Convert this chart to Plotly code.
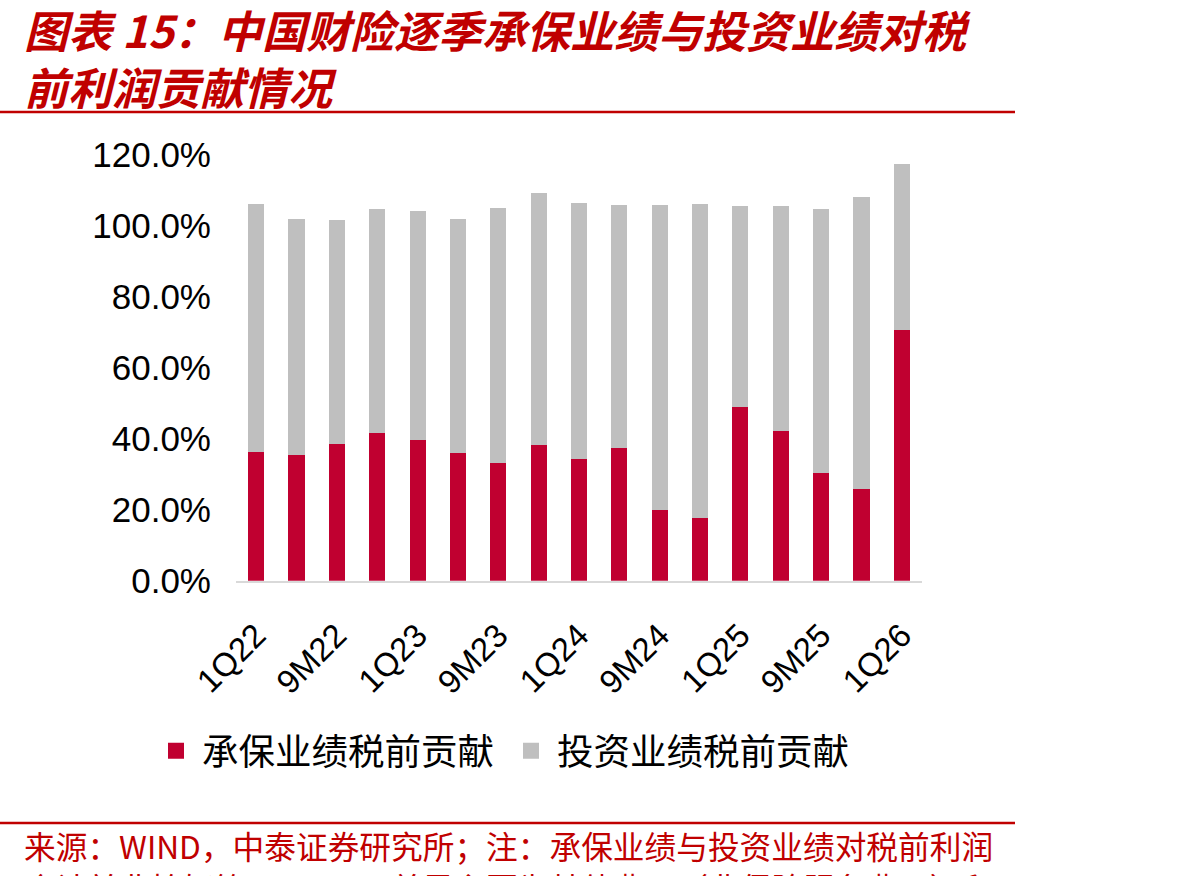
import plotly.graph_objects as go

categories = ["1Q22", "1H22", "9M22", "2022", "1Q23", "1H23", "9M23", "2023",
              "1Q24", "1H24", "9M24", "2024", "1Q25", "1H25", "9M25", "2025", "1Q26"]
underwriting = [36.3, 35.5, 38.6, 41.7, 39.6, 36.1, 33.2, 38.3,
                34.3, 37.4, 19.9, 17.7, 49.0, 42.2, 30.4, 25.9, 70.6]
total = [106.1, 101.9, 101.6, 104.7, 104.1, 101.9, 105.0, 109.2,
         106.4, 105.8, 105.8, 106.1, 105.5, 105.5, 104.7, 108.1, 117.4]
investment = [round(t - u, 1) for t, u in zip(total, underwriting)]
shown_labels = categories[::2]
y_ticks = [0, 20, 40, 60, 80, 100, 120]
series_names = ["承保业绩税前贡献", "投资业绩税前贡献"]

W, H = 1192, 876
RED = "#C00000"
BAR_RED = "#C00030"
BAR_GREY = "#BFBFBF"
CJK = "Noto Sans CJK SC"

fig = go.Figure()
fig.add_trace(go.Bar(x=categories, y=underwriting, name=series_names[0], showlegend=False,
                     marker=dict(color=BAR_RED, line=dict(width=0))))
fig.add_trace(go.Bar(x=categories, y=investment, name=series_names[1], showlegend=False,
                     marker=dict(color=BAR_GREY, line=dict(width=0))))
# legend entries with larger square swatches
for nm, col in zip(series_names, [BAR_RED, BAR_GREY]):
    fig.add_trace(go.Scatter(x=[None], y=[None], mode="markers", name=nm,
                             marker=dict(symbol="square", size=24, color=col, line=dict(width=0))))

fig.update_layout(
    width=W, height=H,
    margin=dict(l=0, r=0, t=0, b=0, pad=0, autoexpand=False),
    paper_bgcolor="white", plot_bgcolor="white",
    barmode="stack", bargap=0.6,
    showlegend=True,
    legend=dict(orientation="h", x=150 / W, y=1 - 751 / H, xanchor="left", yanchor="middle",
                font=dict(family=CJK, size=36.5, color="#000000"),
                traceorder="normal", itemwidth=42, entrywidth=298, entrywidthmode="pixels",
                bgcolor="rgba(0,0,0,0)"),
    xaxis=dict(domain=[236 / W, 922 / W], type="category", automargin=False,
               tickmode="array", tickvals=shown_labels, ticktext=shown_labels,
               tickangle=-45, tickfont=dict(family="Liberation Sans", size=33, color="#000000"),
               showline=True, linecolor="#D9D9D9", linewidth=2, ticks="",
               showgrid=False, ticklabelstandoff=20),
    yaxis=dict(domain=[1 - 580.7 / H, 1 - 155 / H], range=[0, 120], automargin=False,
               tickmode="array", tickvals=y_ticks,
               ticktext=[f"{v:.1f}%" for v in y_ticks],
               tickfont=dict(family="Liberation Sans", size=35, color="#000000"),
               showgrid=False, zeroline=False, showline=False, ticks="",
               ticklabelstandoff=24),
    font=dict(family=CJK),
)

# Title (two lines)
fig.add_annotation(text="<b><i>图表 15：中国财险逐季承保业绩与投资业绩对税<br>前利润贡献情况</i></b>",
                   xref="paper", yref="paper", x=22 / W, y=1 - 57.5 / H,
                   xanchor="left", yanchor="middle", align="left", showarrow=False,
                   font=dict(family=CJK, size=44, color=RED))

# Source notes
fig.add_annotation(text="来源：WIND，中泰证券研究所；注：承保业绩与投资业绩对税前利润",
                   xref="paper", yref="paper", x=22 / W, y=1 - 845 / H,
                   xanchor="left", yanchor="middle", showarrow=False,
                   font=dict(family=CJK, size=31.7, color=RED))
fig.add_annotation(text="合计并非恰好等于100%，差异主要为其他费用（非保险服务费用）和",
                   xref="paper", yref="paper", x=22 / W, y=1 - 887 / H,
                   xanchor="left", yanchor="middle", showarrow=False,
                   font=dict(family=CJK, size=31.7, color=RED))

# Red rules
for yy in (112, 823):
    fig.add_shape(type="line", xref="paper", yref="paper",
                  x0=0, x1=1015 / W, y0=1 - yy / H, y1=1 - yy / H,
                  line=dict(color=RED, width=2.5))

fig.write_html("out.html")
